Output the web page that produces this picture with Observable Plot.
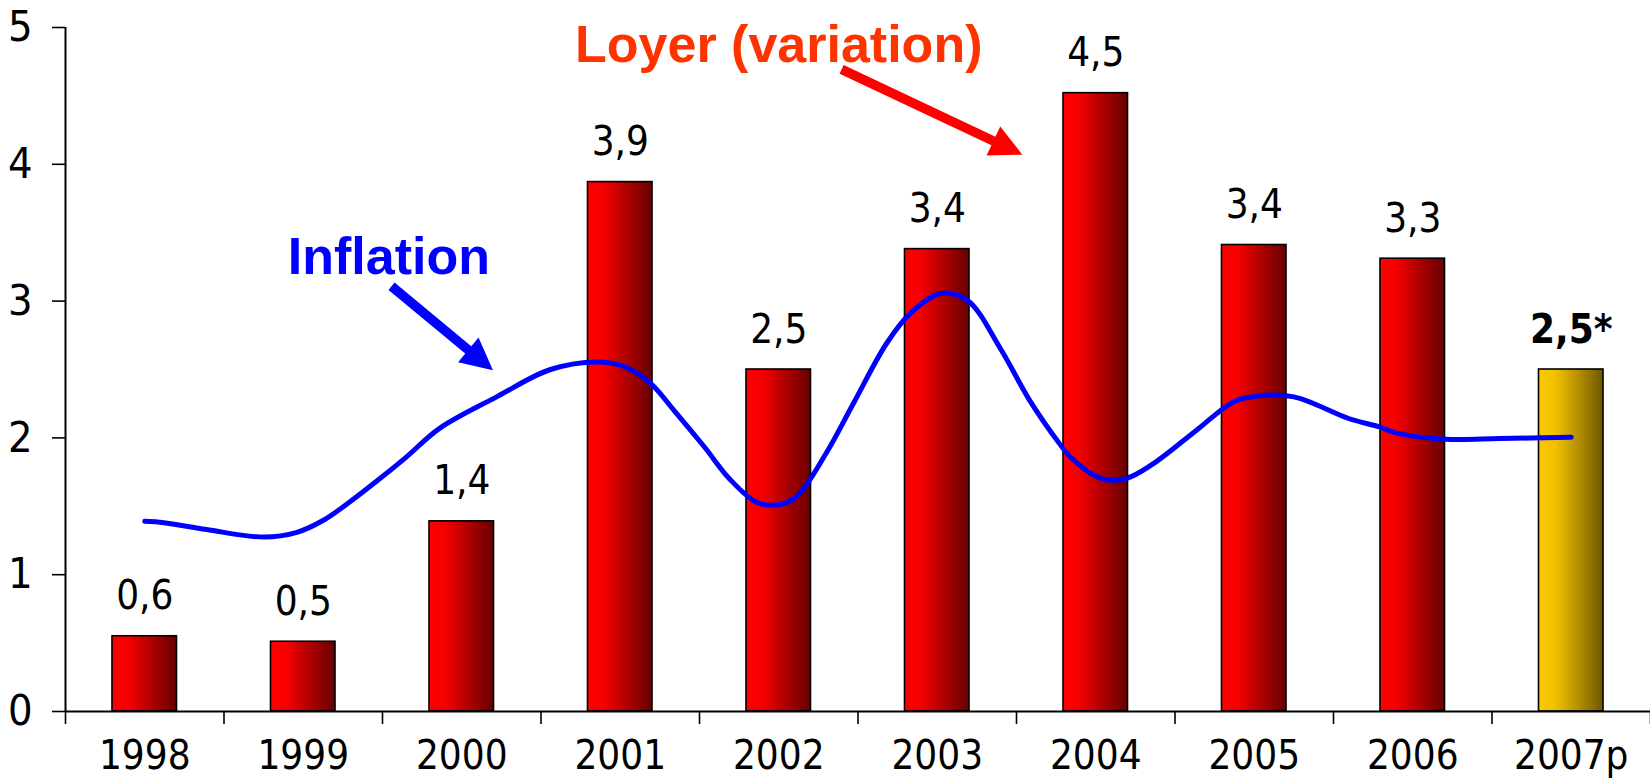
<!DOCTYPE html>
<html><head><meta charset="utf-8">
<script src="https://cdn.jsdelivr.net/npm/d3@7"></script>
<script src="https://cdn.jsdelivr.net/npm/@observablehq/plot@0.6"></script>
<style>
html,body{margin:0;padding:0;background:#fff;overflow:hidden}
</style></head><body><div id="chart"></div>
<script>
// ---- data ----
const years = [1998, 1999, 2000, 2001, 2002, 2003, 2004, 2005, 2006, 2007];
const yearLabels = ["1998", "1999", "2000", "2001", "2002", "2003", "2004", "2005", "2006", "2007p"];
const loyer = [0.55, 0.51, 1.39, 3.87, 2.5, 3.38, 4.52, 3.41, 3.31, 2.5];
const loyerLabels = ["0,6", "0,5", "1,4", "3,9", "2,5", "3,4", "4,5", "3,4", "3,3", "2,5*"];
const projected = [false, false, false, false, false, false, false, false, false, true];

const inflYears = [1998.00, 1998.12, 1998.39, 1998.75, 1998.96, 1999.13, 1999.28, 1999.47, 1999.65, 1999.86,
  2000.22, 2000.56, 2000.87, 2001.04, 2001.19, 2001.34, 2001.53, 2001.69, 2001.86, 2001.99,
  2002.11, 2002.30, 2002.47, 2002.68, 2002.83, 2003.02, 2003.19, 2003.40, 2003.58, 2003.77,
  2003.84, 2004.01, 2004.13, 2004.22, 2004.38, 2004.64, 2004.87, 2005.01, 2005.25, 2005.60,
  2005.79, 2005.90, 2006.21, 2006.55, 2007.00];
const inflValues = [1.39, 1.38, 1.33, 1.275, 1.31, 1.40, 1.52, 1.69, 1.86, 2.07,
  2.30, 2.50, 2.555, 2.515, 2.40, 2.20, 1.935, 1.70, 1.53, 1.51,
  1.57, 1.89, 2.25, 2.69, 2.91, 3.055, 3.005, 2.65, 2.28, 1.96,
  1.86, 1.715, 1.69, 1.715, 1.825, 2.06, 2.265, 2.305, 2.30, 2.14,
  2.08, 2.035, 1.99, 1.995, 2.005];

const yTicks = [0, 1, 2, 3, 4, 5];
const yTickLabels = ["0", "1", "2", "3", "4", "5"];

const noteTexts = ["Loyer (variation)", "Inflation"];
const noteX = [2002.0, 1999.54];
const noteY = [4.75, 3.20];
const noteColors = ["#ff3300", "#0000ff"];

const arrowFromX = [2002.40, 1999.56];
const arrowFromY = [4.69, 3.105];
const arrowToX = [2003.54, 2000.20];
const arrowToY = [4.067, 2.49];
const arrowColors = ["#ff0000", "#0000ff"];

// ---- tables built from arrays ----
const bars = years.map((year, i) => ({year, value: loyer[i], label: loyerLabels[i], projected: projected[i]}));
const infl = inflYears.map((x, i) => ({x, y: inflValues[i]}));
const notes = noteTexts.map((t, i) => ({t, x: noteX[i], y: noteY[i], c: noteColors[i]}));
const arrows = arrowFromX.map((x, i) => ({x1: x, y1: arrowFromY[i], x2: arrowToX[i], y2: arrowToY[i], c: arrowColors[i]}));

const xDomain = [years[0] - 0.5, years[years.length - 1] + 0.5];
const boundaries = d3.range(xDomain[0], xDomain[1] + 0.01, 1);
const halfBar = 0.2035;
const numFont = "'Liberation Sans Narrow', 'Arial Narrow', 'DejaVu Sans Condensed', sans-serif";

const defsMark = () => {
  const defs = d3.create("svg:defs");
  const mk = (id, stops) => {
    const g = defs.append("linearGradient").attr("id", id)
      .attr("x1", "0").attr("x2", "1").attr("y1", "0").attr("y2", "0");
    stops.forEach(([o, c]) => g.append("stop").attr("offset", o).attr("stop-color", c));
  };
  mk("gradRed", [[0, "#ff0000"], [0.25, "#f60000"], [0.6, "#b00000"], [1, "#680000"]]);
  mk("gradGold", [[0, "#fac800"], [0.25, "#f2c200"], [0.6, "#b89200"], [1, "#6e5700"]]);
  return defs.node();
};

const arrowMark = (index, scales) => {
  const g = d3.create("svg:g");
  arrows.forEach(a => {
    const x1 = scales.x(a.x1), y1 = scales.y(a.y1), x2 = scales.x(a.x2), y2 = scales.y(a.y2);
    const dx = x2 - x1, dy = y2 - y1, len = Math.hypot(dx, dy), ux = dx / len, uy = dy / len;
    const hl = 32, hw = 16;
    const bx = x2 - ux * hl, by = y2 - uy * hl;
    g.append("line").attr("x1", x1).attr("y1", y1).attr("x2", bx + ux * 3).attr("y2", by + uy * 3)
      .attr("stroke", a.c).attr("stroke-width", 9.5);
    g.append("path").attr("d", `M${x2},${y2}L${bx - uy * hw},${by + ux * hw}L${bx + uy * hw},${by - ux * hw}Z`)
      .attr("fill", a.c);
  });
  return g.node();
};

const plot = Plot.plot({
  width: 1650,
  height: 781,
  marginLeft: 65,
  marginRight: 0,
  marginTop: 27,
  marginBottom: 70,
  x: {type: "linear", domain: xDomain},
  y: {domain: [0, 5]},
  style: {fontFamily: numFont, background: "#fff", color: "#000"},
  marks: [
    defsMark,
    Plot.rectY(bars, {
      x1: d => d.year - halfBar, x2: d => d.year + halfBar, y: "value",
      fill: d => d.projected ? "url(#gradGold)" : "url(#gradRed)",
      stroke: "#000", strokeWidth: 1.6
    }),
    Plot.line(infl, {x: "x", y: "y", stroke: "#0000ff", strokeWidth: 5, curve: "catmull-rom", strokeLinecap: "round"}),
    Plot.text(bars.filter(d => !d.projected), {
      x: "year", y: "value", text: "label", dy: -27, lineAnchor: "bottom",
      fontSize: 40, fill: "#000"
    }),
    Plot.text(bars.filter(d => d.projected), {
      x: "year", y: "value", text: "label", dy: -27, lineAnchor: "bottom",
      fontSize: 40, fontWeight: "bold", fill: "#000"
    }),
    Plot.ruleY([0], {stroke: "#000", strokeWidth: 2}),
    Plot.ruleX([xDomain[0]], {y1: 0, y2: 5, stroke: "#000", strokeWidth: 2}),
    Plot.axisY(yTicks, {
      tickSize: 13, tickPadding: 20, fontSize: 43, strokeWidth: 1.6,
      tickFormat: d => yTickLabels[yTicks.indexOf(d)]
    }),
    Plot.axisX(boundaries, {tickSize: 13, tickFormat: () => "", strokeWidth: 1.6}),
    Plot.axisX(years, {
      tickSize: 0, tickPadding: 29, fontSize: 40,
      tickFormat: d => yearLabels[years.indexOf(d)]
    }),
    Plot.text(notes, {
      x: "x", y: "y", text: "t", fill: "c", lineAnchor: "bottom",
      fontSize: 52, fontWeight: "bold", fontFamily: "'Liberation Sans', Arial, sans-serif"
    }),
    arrowMark
  ]
});
document.getElementById("chart").appendChild(plot);
</script>
</body></html>
